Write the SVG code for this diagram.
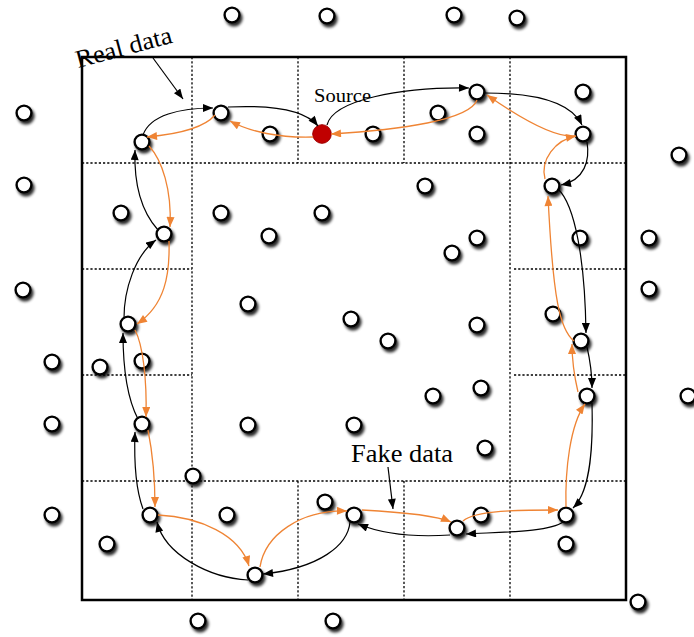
<svg xmlns="http://www.w3.org/2000/svg" width="694" height="637" viewBox="0 0 694 637">
<style>
.nd{fill:#fff;stroke:#000;stroke-width:2.4;filter:url(#sh)}
.src{fill:#c00000;stroke:#a00000;stroke-width:1}
.grid{stroke:#000;stroke-width:1.3;stroke-dasharray:2.2,2;fill:none}
.box{stroke:#000;stroke-width:2.5;fill:none}
.bk{stroke:#000;stroke-width:1.2;fill:none;marker-end:url(#ab)}
.or{stroke:#ef8434;stroke-width:1.3;fill:none;marker-end:url(#ao)}
.lbl{font-family:"Liberation Serif","Times New Roman",serif;fill:#000}
</style>
<defs>
<filter id="sh" x="-50%" y="-50%" width="220%" height="220%">
<feGaussianBlur in="SourceAlpha" stdDeviation="1.6"/>
<feOffset dx="2" dy="3" result="b"/>
<feComponentTransfer><feFuncA type="linear" slope="0.85"/></feComponentTransfer>
<feMerge><feMergeNode/><feMergeNode in="SourceGraphic"/></feMerge>
</filter>
<marker id="ab" viewBox="0 0 10 8" refX="10" refY="4" markerWidth="11" markerHeight="8" markerUnits="userSpaceOnUse" orient="auto"><path d="M0,0 L10,4 L0,8 z" fill="#000"/></marker>
<marker id="ao" viewBox="0 0 10 8" refX="10" refY="4" markerWidth="11" markerHeight="8" markerUnits="userSpaceOnUse" orient="auto"><path d="M0,0 L10,4 L0,8 z" fill="#ef8434"/></marker>
</defs>
<rect width="694" height="637" fill="#fff"/>
<g id="grid">
<rect class="box" x="82" y="57" width="544" height="543"/>
<path class="grid" d="M82,163 H626 M82,481 H626 M192,57 V600 M510,57 V600 M298,57 V163 M404,57 V163 M298,481 V600 M404,481 V600 M82,269 H192 M82,375 H192 M514,269 H626 M514,375 H626"/>
</g>
<g id="nodes">
<g id="n1"><circle class="nd" cx="232" cy="15" r="7.4"/></g>
<g id="n2"><circle class="nd" cx="327" cy="16" r="7.4"/></g>
<g id="n3"><circle class="nd" cx="454" cy="15" r="7.4"/></g>
<g id="n4"><circle class="nd" cx="517" cy="18" r="7.4"/></g>
<g id="n5"><circle class="nd" cx="24" cy="113" r="7.4"/></g>
<g id="n6"><circle class="nd" cx="24" cy="185" r="7.4"/></g>
<g id="n7"><circle class="nd" cx="23" cy="290" r="7.4"/></g>
<g id="n8"><circle class="nd" cx="52" cy="362" r="7.4"/></g>
<g id="n9"><circle class="nd" cx="52" cy="424" r="7.4"/></g>
<g id="n10"><circle class="nd" cx="52" cy="515" r="7.4"/></g>
<g id="n11"><circle class="nd" cx="679" cy="155" r="7.4"/></g>
<g id="n12"><circle class="nd" cx="649" cy="238" r="7.4"/></g>
<g id="n13"><circle class="nd" cx="649" cy="289" r="7.4"/></g>
<g id="n14"><circle class="nd" cx="688" cy="396" r="7.4"/></g>
<g id="n15"><circle class="nd" cx="638" cy="602" r="7.4"/></g>
<g id="n16"><circle class="nd" cx="198" cy="621" r="7.4"/></g>
<g id="n17"><circle class="nd" cx="333" cy="621" r="7.4"/></g>
<g id="p1"><circle class="nd" cx="142" cy="142" r="7.4"/></g>
<g id="p2"><circle class="nd" cx="221" cy="113" r="7.4"/></g>
<g id="n18"><circle class="nd" cx="270" cy="134" r="7.4"/></g>
<g id="n19"><circle class="nd" cx="373" cy="134" r="7.4"/></g>
<g id="n20"><circle class="nd" cx="438" cy="113" r="7.4"/></g>
<g id="p3"><circle class="nd" cx="477" cy="92" r="7.4"/></g>
<g id="n21"><circle class="nd" cx="477" cy="134" r="7.4"/></g>
<g id="n22"><circle class="nd" cx="583" cy="92" r="7.4"/></g>
<g id="p4"><circle class="nd" cx="583" cy="134" r="7.4"/></g>
<g id="n23"><circle class="nd" cx="121" cy="213" r="7.4"/></g>
<g id="p5"><circle class="nd" cx="164" cy="234" r="7.4"/></g>
<g id="n24"><circle class="nd" cx="221" cy="213" r="7.4"/></g>
<g id="n25"><circle class="nd" cx="269" cy="236" r="7.4"/></g>
<g id="n26"><circle class="nd" cx="322" cy="213" r="7.4"/></g>
<g id="n27"><circle class="nd" cx="425" cy="186" r="7.4"/></g>
<g id="n28"><circle class="nd" cx="452" cy="253" r="7.4"/></g>
<g id="n29"><circle class="nd" cx="477" cy="238" r="7.4"/></g>
<g id="p6"><circle class="nd" cx="552" cy="186" r="7.4"/></g>
<g id="n30"><circle class="nd" cx="580" cy="238" r="7.4"/></g>
<g id="p7"><circle class="nd" cx="128" cy="324" r="7.4"/></g>
<g id="n31"><circle class="nd" cx="248" cy="304" r="7.4"/></g>
<g id="n32"><circle class="nd" cx="351" cy="319" r="7.4"/></g>
<g id="n33"><circle class="nd" cx="388" cy="341" r="7.4"/></g>
<g id="n34"><circle class="nd" cx="477" cy="325" r="7.4"/></g>
<g id="n35"><circle class="nd" cx="553" cy="314" r="7.4"/></g>
<g id="p8"><circle class="nd" cx="581" cy="341" r="7.4"/></g>
<g id="n36"><circle class="nd" cx="100" cy="367" r="7.4"/></g>
<g id="n37"><circle class="nd" cx="142" cy="361" r="7.4"/></g>
<g id="p9"><circle class="nd" cx="142" cy="424" r="7.4"/></g>
<g id="n38"><circle class="nd" cx="248" cy="425" r="7.4"/></g>
<g id="n39"><circle class="nd" cx="354" cy="425" r="7.4"/></g>
<g id="n40"><circle class="nd" cx="433" cy="396" r="7.4"/></g>
<g id="n41"><circle class="nd" cx="481" cy="388" r="7.4"/></g>
<g id="n42"><circle class="nd" cx="485" cy="448" r="7.4"/></g>
<g id="p10"><circle class="nd" cx="587" cy="396" r="7.4"/></g>
<g id="p11"><circle class="nd" cx="150" cy="515" r="7.4"/></g>
<g id="n43"><circle class="nd" cx="193" cy="476" r="7.4"/></g>
<g id="n44"><circle class="nd" cx="227" cy="515" r="7.4"/></g>
<g id="n45"><circle class="nd" cx="325" cy="502" r="7.4"/></g>
<g id="p12"><circle class="nd" cx="354" cy="515" r="7.4"/></g>
<g id="n46"><circle class="nd" cx="481" cy="515" r="7.4"/></g>
<g id="p13"><circle class="nd" cx="457" cy="528" r="7.4"/></g>
<g id="p14"><circle class="nd" cx="566" cy="515" r="7.4"/></g>
<g id="n47"><circle class="nd" cx="566" cy="544" r="7.4"/></g>
<g id="n48"><circle class="nd" cx="107" cy="544" r="7.4"/></g>
<g id="p15"><circle class="nd" cx="255" cy="575" r="7.4"/></g>
<g id="source"><circle class="src" cx="322" cy="134" r="9.3"/></g>
</g>
<g id="connectors">
<path class="bk" d="M327,125 C333,100 400,87 469,88"/>
<path class="bk" d="M485,93 C530,93 570,100 582,125"/>
<path class="bk" d="M587,142 C590,160 585,180 561,185"/>
<path class="bk" d="M558,189 C575,205 585,260 586,333"/>
<path class="bk" d="M587,347 C590,360 592,375 592,388"/>
<path class="bk" d="M592,403 C593,440 592,490 573,508"/>
<path class="bk" d="M563,522 C550,532 500,532 466,534"/>
<path class="bk" d="M450,535 C420,537 385,535 358,524"/>
<path class="bk" d="M350,522 C348,545 320,568 263,574"/>
<path class="bk" d="M248,580 C210,578 165,555 157,522"/>
<path class="bk" d="M143,509 C136,490 134,460 135,432"/>
<path class="bk" d="M138,419 C128,400 123,370 123,333"/>
<path class="bk" d="M124,318 C124,290 135,255 156,240"/>
<path class="bk" d="M158,230 C140,210 134,180 135,150"/>
<path class="bk" d="M143,135 C150,115 180,108 213,108"/>
<path class="bk" d="M228,107 C270,105 305,110 318,126"/>
<path class="or" d="M313,137 C280,138 250,132 230,121"/>
<path class="or" d="M215,115 C205,127 180,134 147,137"/>
<path class="or" d="M149,146 C162,160 172,190 170,227"/>
<path class="or" d="M169,241 C170,275 165,305 137,324"/>
<path class="or" d="M135,330 C143,345 147,380 146,417"/>
<path class="or" d="M148,430 C152,450 155,480 155,507"/>
<path class="or" d="M158,515 C200,517 240,535 249,566"/>
<path class="or" d="M260,567 C265,535 300,510 347,511"/>
<path class="or" d="M362,510 C400,512 435,515 451,522"/>
<path class="or" d="M463,521 C475,510 520,510 558,510"/>
<path class="or" d="M566,507 C565,470 570,425 585,404"/>
<path class="or" d="M578,392 C574,375 572,360 572,344"/>
<path class="or" d="M574,341 C560,330 553,300 548,196"/>
<path class="or" d="M545,179 C540,160 555,140 576,136"/>
<path class="or" d="M575,136 C555,138 520,118 487,95"/>
<path class="or" d="M477,100 C470,120 400,130 331,134"/>
<path class="bk" d="M153,58 L183,99"/>
<path class="bk" d="M388,467 L393,509"/>
</g>
<g id="labels">
<text class="lbl" x="78" y="68" font-size="25" textLength="99" lengthAdjust="spacingAndGlyphs" transform="rotate(-15 78 68)">Real data</text>
<text class="lbl" x="314" y="102" font-size="19" textLength="57" lengthAdjust="spacingAndGlyphs">Source</text>
<text class="lbl" x="351" y="462" font-size="25" textLength="102" lengthAdjust="spacingAndGlyphs">Fake data</text>
</g>
</svg>
